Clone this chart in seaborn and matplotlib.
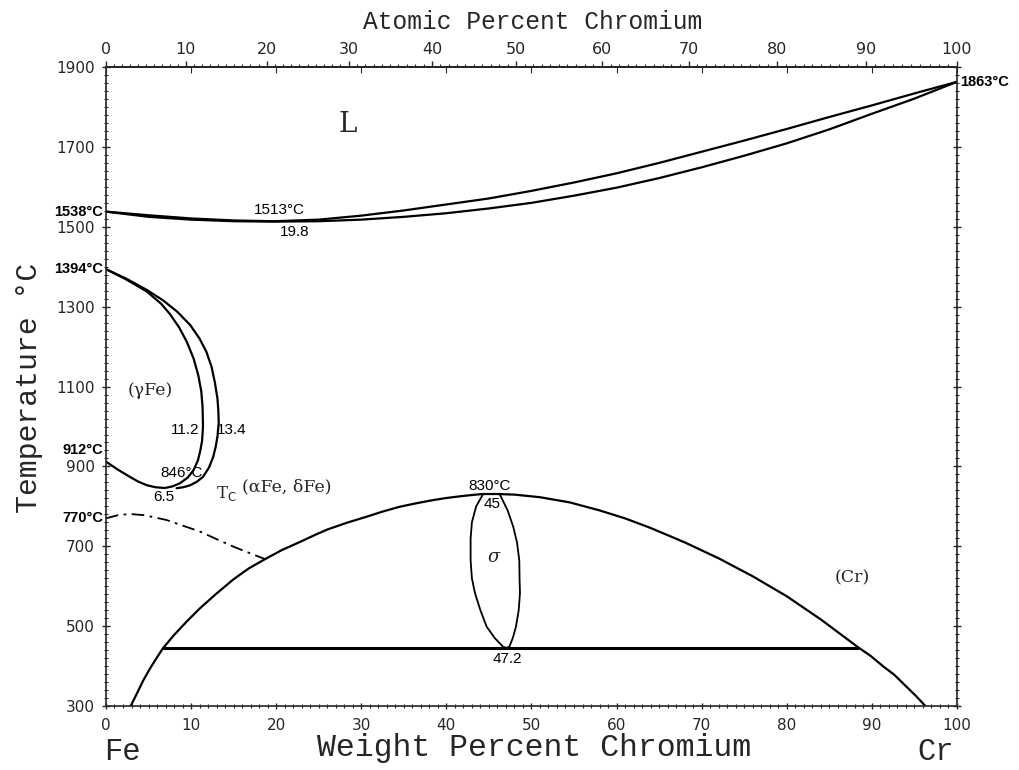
import numpy as np
import pandas as pd
import seaborn as sns
import matplotlib.pyplot as plt
from matplotlib.ticker import MultipleLocator, FixedLocator

# liquidus / solidus (wt% Cr, degC)
liq_w = [0, 5, 10, 15, 19.8, 25, 30, 35, 40, 45, 50, 55, 60, 65, 70, 75, 80, 85, 90, 95, 100]
liq_T = [1538, 1529, 1521, 1516, 1514, 1518, 1528, 1541, 1556, 1571, 1590, 1611, 1634, 1660, 1688, 1716, 1745, 1775, 1804, 1834, 1863]
sol_T = [1538, 1525, 1518, 1514, 1513, 1514, 1518, 1525, 1534, 1546, 1560, 1578, 1598, 1622, 1649, 1678, 1709, 1744, 1783, 1821, 1863]

# gamma loop, inner (gamma side) and outer (alpha side) boundaries
gin_w = [0, 2.4, 4.8, 6.5, 7.5, 8.6, 9.5, 10.3, 10.85, 11.2, 11.35, 11.4, 11.3, 11.1, 10.8, 10.3, 9.6, 8.7, 7.8, 6.9, 5.8, 4.8, 3.8, 2.8, 1.4, 0]
gin_T = [1394, 1368, 1338, 1307, 1282, 1248, 1212, 1170, 1128, 1088, 1049, 1000, 965, 941, 915, 891, 872, 858, 850, 846, 848, 853, 862, 874, 892, 912]
gout_w = [0, 2.4, 4.8, 6.7, 8.4, 9.9, 11.0, 11.8, 12.4, 12.8, 13.1, 13.2, 13.25, 13.1, 12.9, 12.6, 12.1, 11.4, 10.7, 9.9, 9.1, 8.3]
gout_T = [1394, 1370, 1342, 1316, 1287, 1254, 1220, 1187, 1150, 1110, 1070, 1041, 1010, 975, 950, 924, 897, 874, 862, 853, 848, 845.5]

# Curie temperature line
tc_w = [0, 1.4, 2.8, 4.5, 7.1, 9.0, 11.05, 13.0, 15.0, 17.0, 18.7]
tc_T = [770, 778, 781, 778, 766, 752, 737, 718, 699, 682, 668]

# sigma / alpha dome and low-temperature branches
dome_w = [6.7, 8.0, 9.5, 11.05, 13.0, 14.96, 16.8, 18.7, 20.7, 22.8, 24.4, 26.0, 28.3, 30.6, 32.5, 34.5, 36.5,
          38.5, 40.0, 41.5, 43.0, 44.3, 46.0, 48.0, 51.0, 54.5, 58.0, 61.0, 64.0, 68.0, 72.0, 76.0, 80.0, 84.0, 88.4]
dome_T = [445, 478, 512, 545, 582, 617, 645, 668, 691, 711, 727, 742, 759, 774, 787, 799, 808,
          816, 821, 825, 828.5, 831, 831, 829.5, 823, 810, 790, 770, 746, 710, 670, 625, 575, 517, 447]
lowl_w = [2.9, 3.6, 4.4, 5.2, 6.0, 6.7]
lowl_T = [300, 330, 365, 395, 422, 445]
lowr_w = [88.4, 89.9, 91.3, 92.6, 94.0, 95.2, 96.3]
lowr_T = [447, 425, 400, 379, 350, 325, 300]
eut_w = [6.7, 88.4]
eut_T = [446, 446]

# sigma phase field
sig_w = [44.3, 43.5, 43.0, 42.85, 42.85, 43.0, 43.36, 44.0, 44.73, 45.7, 46.69, 47.1, 47.4, 47.8,
         48.18, 48.5, 48.65, 48.6, 48.57, 48.3, 47.86, 47.2, 46.3]
sig_T = [830, 800, 760, 720, 665, 620, 583, 540, 499, 470, 448, 446, 448.5, 470,
         499, 540, 583, 620, 665, 710, 749, 790, 829]

temp_ticks = [300, 500, 700, 900, 1100, 1300, 1500, 1700, 1900]

M_CR, M_FE = 51.996, 55.845


def wt_to_at(w):
    w = np.asarray(w, dtype=float)
    a = w / M_CR
    b = (100 - w) / M_FE
    return 100 * a / (a + b)


def at_to_wt(a):
    a = np.asarray(a, dtype=float)
    c = a * M_CR
    f = (100 - a) * M_FE
    return 100 * c / (c + f)


sns.set_theme(style='white')
plt.rcParams['font.family'] = ['DejaVu Sans']
plt.rcParams['axes.linewidth'] = 1.2

fig = plt.figure(figsize=(10.19, 7.7), dpi=100)
ax = fig.add_axes([0.104, 0.083, 0.8351, 0.8299])


def draw(w, T, lw=1.6, **kw):
    df = pd.DataFrame({'w': w, 'T': T})
    sns.lineplot(data=df, x='w', y='T', sort=False, estimator=None,
                 color='black', lw=lw, ax=ax, **kw)


draw(liq_w, liq_T)
draw(liq_w, sol_T)
draw(gin_w, gin_T)
draw(gout_w, gout_T)
draw(tc_w, tc_T, lw=1.3, linestyle=(0, (7, 3, 1.5, 3)))
draw(dome_w, dome_T)
draw(lowl_w, lowl_T)
draw(lowr_w, lowr_T)
draw(eut_w, eut_T, lw=2.2)
draw(sig_w, sig_T, lw=1.3)

ax.set_xlim(0, 100)
ax.set_ylim(300, 1900)
ax.set_xlabel('')
ax.set_ylabel('')

ax.xaxis.set_major_locator(MultipleLocator(10))
ax.xaxis.set_minor_locator(MultipleLocator(1))
ax.yaxis.set_major_locator(FixedLocator(temp_ticks))
ax.yaxis.set_minor_locator(MultipleLocator(20))
ax.tick_params(axis='x', which='major', bottom=True, top=False, direction='inout',
               length=5, width=1, labelsize=11, pad=6)
ax.tick_params(axis='x', which='minor', bottom=True, top=False, direction='inout',
               length=2.5, width=0.8)
ax.tick_params(axis='y', which='major', left=True, right=True, direction='inout',
               length=6, width=1, labelsize=11, pad=5)
ax.tick_params(axis='y', which='minor', left=True, right=True, direction='inout',
               length=2.5, width=0.8)

# inward wt% ticks on the top edge
top_in = ax.secondary_xaxis('top')
top_in.xaxis.set_major_locator(MultipleLocator(10))
top_in.tick_params(direction='in', length=4, width=0.8, labeltop=False)

# atomic percent axis
sec = ax.secondary_xaxis('top', functions=(wt_to_at, at_to_wt))
sec.xaxis.set_major_locator(FixedLocator(np.arange(0, 101, 10)))
sec.xaxis.set_minor_locator(FixedLocator(np.arange(0, 101, 1)))
sec.tick_params(which='major', direction='out', length=4, width=1, labelsize=11.5, pad=3)
sec.tick_params(which='minor', direction='out', length=2, width=0.8)

mono = 'Liberation Mono'
serif = 'DejaVu Serif'
fig.text(0.523, 0.972, 'Atomic Percent Chromium', ha='center', va='center',
         family=mono, fontsize=17.7)
fig.text(0.524, 0.029, 'Weight Percent Chromium', ha='center', va='center',
         family=mono, fontsize=22.7)
fig.text(0.12, 0.024, 'Fe', ha='center', va='center', family=mono, fontsize=22)
fig.text(0.918, 0.024, 'Cr', ha='center', va='center', family=mono, fontsize=22)
fig.text(0.028, 0.496, 'Temperature °C', ha='center', va='center', rotation=90,
         family=mono, fontsize=21.5)

lab = dict(family='Liberation Sans', fontsize=10.5, fontweight='bold', color='black')
ax.text(-0.3, 1538, '1538°C', ha='right', va='center', **lab)
ax.text(-0.3, 1394, '1394°C', ha='right', va='center', **lab)
ax.text(-0.3, 942, '912°C', ha='right', va='center', **lab)
ax.text(-0.3, 770, '770°C', ha='right', va='center', **lab)
ax.text(100.4, 1863, '1863°C', ha='left', va='center', **lab)

inner = dict(family='Liberation Sans', fontsize=11, color='black')
ax.text(20.4, 1542, '1513°C', ha='center', va='center', **inner)
ax.text(22.2, 1487, '19.8', ha='center', va='center', **inner)
ax.text(9.3, 991, '11.2', ha='center', va='center', **inner)
ax.text(14.8, 991, '13.4', ha='center', va='center', **inner)
ax.text(8.9, 883, '846°C', ha='center', va='center', **inner)
ax.text(6.8, 823, '6.5', ha='center', va='center', **inner)
ax.text(45.1, 851, '830°C', ha='center', va='center', **inner)
ax.text(45.4, 806, '45', ha='center', va='center', **inner)
ax.text(47.2, 418, '47.2', ha='center', va='center', **inner)

ax.text(28.4, 1755, 'L', ha='center', va='center', family=serif, fontsize=20)
ax.text(5.2, 1091, '(γFe)', ha='center', va='center', family=serif, fontsize=12.5)
ax.text(21.3, 848, '(αFe, δFe)', ha='center', va='center', family=serif, fontsize=12.5)
ax.text(87.7, 620, '(Cr)', ha='center', va='center', family=serif, fontsize=12.5)
ax.text(45.6, 673, 'σ', ha='center', va='center', family=serif, fontsize=13, style='italic')
ax.text(14.1, 833, r'T$_{\mathrm{C}}$', ha='center', va='center', family=serif, fontsize=12)

fig.savefig('out.png', dpi=100)
